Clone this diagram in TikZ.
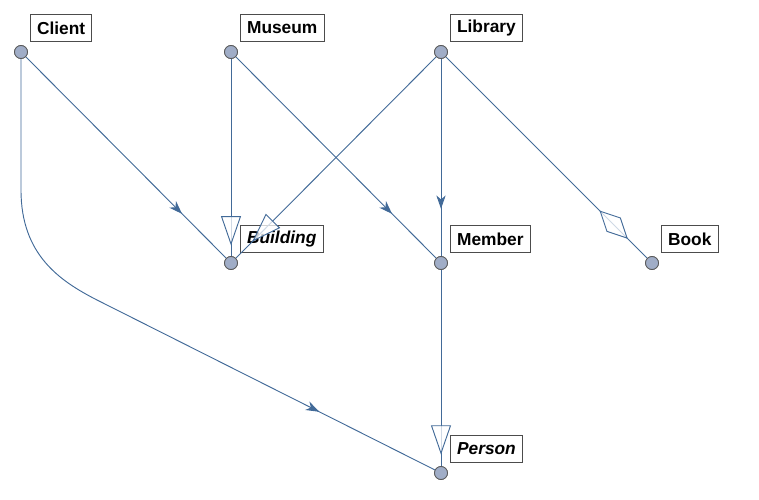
\documentclass[tikz,border=0pt]{standalone}
\usepackage{fontspec}
\setmainfont{Liberation Sans}
\usetikzlibrary{arrows.meta, decorations.markings}
\definecolor{edgeblue}{RGB}{66,106,152}
\definecolor{vtxfill}{RGB}{160,173,199}
\tikzset{
  vtx/.style={circle, draw=black!65, fill=vtxfill, line width=0.6pt, inner sep=0pt, minimum size=9.75pt},
  lbl/.style={draw=black!70, fill=white, line width=0.6pt, anchor=south west,
    font=\fontsize{13}{15}\selectfont\bfseries, minimum height=20.5pt, inner xsep=5pt, inner ysep=0pt},
  link/.style={draw=edgeblue, line width=0.7pt},
  uses/.style={link, postaction={decorate}, decoration={markings,
    mark=at position #1 with {\arrow{Stealth[length=10pt,width=7pt,inset=3pt]}}}},
  uses/.default=0.78,
  isa/.style={link, postaction={decorate}, decoration={markings,
    mark=at position #1 with {\arrow[fill opacity=0.75]{Triangle[length=22pt,width=15pt,fill=white]}}}},
  isa/.default=-8pt,
  has/.style={link, postaction={decorate}, decoration={markings,
    mark=at position #1 with {\arrow[fill opacity=0.75]{Diamond[length=30pt,width=15pt,fill=white]}}}},
  has/.default=-20.5pt
}
\begin{document}
\begin{tikzpicture}[x=0.75pt, y=-0.75pt]
\useasboundingbox (0,0) rectangle (759,499);

% Vertices
\node[vtx] (client) at (21,52) {};
\node[vtx] (museum) at (231,52) {};
\node[vtx] (library) at (441,52) {};
\node[vtx] (building) at (231,263) {};
\node[vtx] (member) at (441,263) {};
\node[vtx] (book) at (652,263) {};
\node[vtx] (person) at (441,473) {};

% Labels
\node[lbl] (clientL) at ([shift={(9,-10)}]client) {Client};
\node[lbl] (museumL) at ([shift={(9,-10)}]museum) {Museum};
\node[lbl] (libraryL) at ([shift={(9,-10)}]library) {Library};
\node[lbl] (buildingL) at ([shift={(9,-10)}]building) {\itshape Building};
\node[lbl] (memberL) at ([shift={(9,-10)}]member) {Member};
\node[lbl] (bookL) at ([shift={(9,-10)}]book) {Book};
\node[lbl] (personL) at ([shift={(9,-10)}]person) {\itshape Person};

% Bends of the long edge
\coordinate (c1) at (21,190);
\coordinate (c2) at (97,300);

% Edges
\draw[uses] (client) -- (building);
\draw[uses=-97pt] (client) -- (c1) .. controls (21,255) and (60,281) .. (c2) -- (person);
\draw[isa] (museum) -- (building);
\draw[uses] (museum) -- (member);
\draw[isa=-17.5pt] (library) -- (building);
\draw[uses=0.76] (library) -- (member);
\draw[has] (library) -- (book);
\draw[isa=-8.6pt] (member) -- (person);

% Redraw vertices on top
\foreach \v in {client,museum,library,building,member,book,person}
  \node[vtx] at (\v) {};
\end{tikzpicture}
\end{document}
